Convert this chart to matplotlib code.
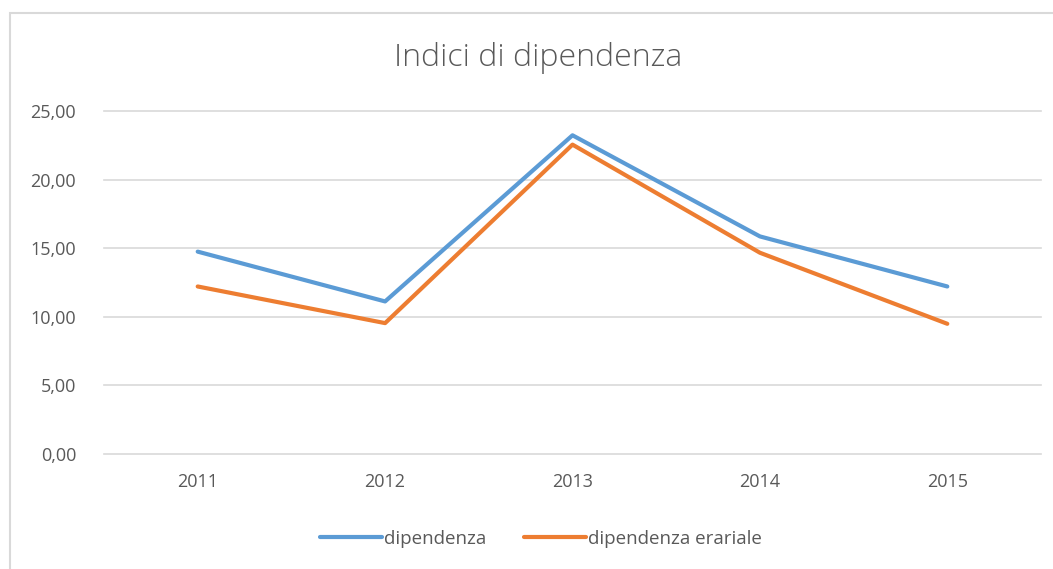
import matplotlib.pyplot as plt
from matplotlib.patches import Rectangle

anni = ['2011', '2012', '2013', '2014', '2015']
dipendenza = [14.75, 11.12, 23.23, 15.86, 12.21]
dipendenza_erariale = [12.21, 9.54, 22.55, 14.67, 9.49]
y_ticks = [0, 5, 10, 15, 20, 25]

plt.rcParams['font.family'] = ['Open Sans', 'DejaVu Sans']

fig = plt.figure(figsize=(10.53, 5.69), dpi=100)
ax = fig.add_axes([104/1053, 1 - 454/569, (1041 - 104)/1053, (454 - 111)/569])

# chart frame, cut off at right and bottom like the screenshot
fig.patches.append(Rectangle((10/1053, -0.05), 1.1, 1 - 13/569 + 0.05,
                             transform=fig.transFigure, fill=False,
                             edgecolor='#d9d9d9', linewidth=1.5))

x = range(len(anni))
ax.plot(x, dipendenza, color='#5b9bd5', lw=3, solid_capstyle='round',
        solid_joinstyle='round', label='dipendenza')
ax.plot(x, dipendenza_erariale, color='#ed7d31', lw=3, solid_capstyle='round',
        solid_joinstyle='round', label='dipendenza erariale')

ax.set_xlim(-0.5, len(anni) - 0.5)
ax.set_ylim(0, 25)
ax.set_yticks(y_ticks)
ax.set_yticklabels([f'{v:.2f}'.replace('.', ',') for v in y_ticks])
ax.set_xticks(list(x))
ax.set_xticklabels(anni)
ax.yaxis.grid(True, color='#d9d9d9', lw=1.2)
for gl in ax.get_ygridlines():
    gl.set_clip_on(False)
ax.set_axisbelow(True)
for s in ax.spines.values():
    s.set_visible(False)
ax.tick_params(length=0, labelsize=13, labelcolor='#595959')
ax.tick_params(axis='y', pad=20)
ax.tick_params(axis='x', pad=14)

fig.text(538/1053, 1 - 58/569, 'Indici di dipendenza', ha='center', va='center',
         fontsize=23, color='#595959', fontweight='light')

fig.legend(loc='center', bbox_to_anchor=(541/1053, 1 - 539/569), ncol=2,
           frameon=False, fontsize=13.5, labelcolor='#595959',
           handlelength=3.3, handletextpad=0.1, columnspacing=2.0)

fig.savefig('out.png', dpi=100, facecolor='white')
